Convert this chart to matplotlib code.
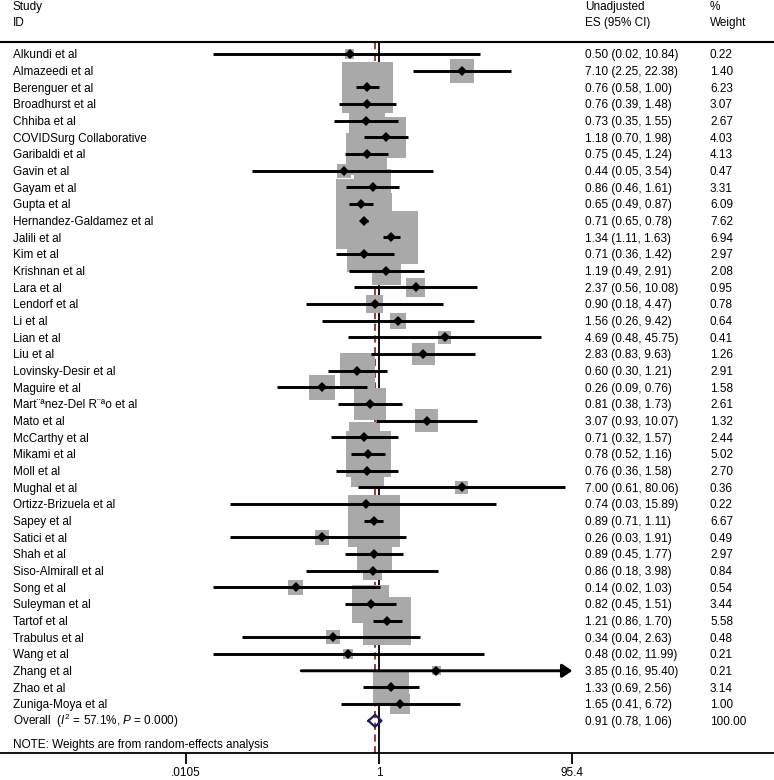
import numpy as np
import matplotlib
matplotlib.use("Agg")
from matplotlib import pyplot as plt

plt.rcParams['font.family'] = ['Liberation Sans', 'DejaVu Sans']
plt.rcParams['mathtext.fontset'] = 'custom'
plt.rcParams['mathtext.rm'] = 'Liberation Sans'
plt.rcParams['mathtext.it'] = 'Liberation Sans:italic'

studies = [
    "Alkundi et al", "Almazeedi et al", "Berenguer et al", "Broadhurst et al",
    "Chhiba et al", "COVIDSurg Collaborative", "Garibaldi et al", "Gavin et al",
    "Gayam et al", "Gupta et al", "Hernandez-Galdamez et al", "Jalili et al",
    "Kim et al", "Krishnan et al", "Lara et al", "Lendorf et al", "Li et al",
    "Lian et al", "Liu et al", "Lovinsky-Desir et al", "Maguire et al",
    "Mart\u00a8\u00aanez-Del R\u00a8\u00aao et al", "Mato et al", "McCarthy et al",
    "Mikami et al", "Moll et al", "Mughal et al", "Ortizz-Brizuela et al",
    "Sapey et al", "Satici et al", "Shah et al", "Siso-Almirall et al",
    "Song et al", "Suleyman et al", "Tartof et al", "Trabulus et al",
    "Wang et al", "Zhang et al", "Zhao et al", "Zuniga-Moya et al",
]
es = [0.50, 7.10, 0.76, 0.76, 0.73, 1.18, 0.75, 0.44, 0.86, 0.65,
      0.71, 1.34, 0.71, 1.19, 2.37, 0.90, 1.56, 4.69, 2.83, 0.60,
      0.26, 0.81, 3.07, 0.71, 0.78, 0.76, 7.00, 0.74, 0.89, 0.26,
      0.89, 0.86, 0.14, 0.82, 1.21, 0.34, 0.48, 3.85, 1.33, 1.65]
ci_low = [0.02, 2.25, 0.58, 0.39, 0.35, 0.70, 0.45, 0.05, 0.46, 0.49,
          0.65, 1.11, 0.36, 0.49, 0.56, 0.18, 0.26, 0.48, 0.83, 0.30,
          0.09, 0.38, 0.93, 0.32, 0.52, 0.36, 0.61, 0.03, 0.71, 0.03,
          0.45, 0.18, 0.02, 0.45, 0.86, 0.04, 0.02, 0.16, 0.69, 0.41]
ci_high = [10.84, 22.38, 1.00, 1.48, 1.55, 1.98, 1.24, 3.54, 1.61, 0.87,
           0.78, 1.63, 1.42, 2.91, 10.08, 4.47, 9.42, 45.75, 9.63, 1.21,
           0.76, 1.73, 10.07, 1.57, 1.16, 1.58, 80.06, 15.89, 1.11, 1.91,
           1.77, 3.98, 1.03, 1.51, 1.70, 2.63, 11.99, 95.40, 2.56, 6.72]
weights = [0.22, 1.40, 6.23, 3.07, 2.67, 4.03, 4.13, 0.47, 3.31, 6.09,
           7.62, 6.94, 2.97, 2.08, 0.95, 0.78, 0.64, 0.41, 1.26, 2.91,
           1.58, 2.61, 1.32, 2.44, 5.02, 2.70, 0.36, 0.22, 6.67, 0.49,
           2.97, 0.84, 0.54, 3.44, 5.58, 0.48, 0.21, 0.21, 3.14, 1.00]
overall_es, overall_lo, overall_hi = 0.91, 0.78, 1.06
i2, p_value = 57.1, 0.000
tick_values = [0.0105, 1, 95.4]
tick_labels = [".0105", "1", "95.4"]

FS = 8.5
W, H = 774, 780
row_px = 16.67
first_row_px = 54
axis_px = 752.7
one_px, decade_px = 379, 97.7

fig = plt.figure(figsize=(W / 100, H / 100), dpi=100)
ax = fig.add_axes([0, (H - axis_px) / H, 1, axis_px / H])
ax.set_xscale('log')
ax.set_xlim(10 ** (-one_px / decade_px), 10 ** ((W - one_px) / decade_px))
ax.set_ylim((axis_px - first_row_px) / row_px, -first_row_px / row_px)

n = len(studies)
rows = np.arange(n)
overall_row = n
top_line = (41.7 - first_row_px) / row_px
bottom_row = (axis_px - first_row_px) / row_px
base_off = 0.25

# reference lines (null line and pooled estimate)
ax.plot([1, 1], [top_line, bottom_row], color='black', lw=1.3, zorder=1)
ax.plot([overall_es, overall_es], [top_line, bottom_row],
        color='#8b2e2e', lw=1.3, ls=(0, (4, 2.5)), zorder=1)
ax.axhline(top_line, color='black', lw=1.5, zorder=1)

# weight boxes, area ~ weight
ax.scatter(es, rows, s=np.array(weights) * 213, marker='s', color='#a9a9a9',
           linewidths=0, zorder=2)

# CIs
xmax = tick_values[-1]
for r, lo, hi in zip(rows, ci_low, ci_high):
    if hi >= xmax:
        ax.annotate('', xy=(xmax, r), xytext=(lo, r),
                    arrowprops=dict(arrowstyle='-|>,head_length=0.6,head_width=0.4',
                                    lw=2.1, color='black', shrinkA=0, shrinkB=0,
                                    mutation_scale=10), zorder=3)
    else:
        ax.plot([lo, hi], [r, r], color='black', lw=2.1, solid_capstyle='butt', zorder=3)
ax.plot(es, rows, ls='none', marker='D', ms=5.2, color='black', mew=0, zorder=4)

# overall diamond
dh = 0.36
ax.plot([overall_lo, overall_es, overall_hi, overall_es, overall_lo],
        [overall_row, overall_row - dh, overall_row, overall_row + dh, overall_row],
        color='#1c1c5c', lw=1.6, zorder=5)

# text columns
tr = ax.get_yaxis_transform()
x_id, x_es, x_w = 12.7 / W, 585 / W, 710 / W
hdr1 = (5.5 - first_row_px) / row_px
hdr2 = (21.5 - first_row_px) / row_px
for x, t1, t2 in [(x_id, "Study", "ID"), (x_es, "Unadjusted", "ES (95% CI)"), (x_w, "%", "Weight")]:
    ax.text(x, hdr1 + base_off, t1, transform=tr, fontsize=FS, va='baseline')
    ax.text(x, hdr2 + base_off, t2, transform=tr, fontsize=FS, va='baseline')

for r, name, e, lo, hi, w in zip(rows, studies, es, ci_low, ci_high, weights):
    ax.text(x_id, r + base_off, name, transform=tr, fontsize=FS, va='baseline')
    ax.text(x_es, r + base_off, f"{e:.2f} ({lo:.2f}, {hi:.2f})", transform=tr, fontsize=FS, va='baseline')
    ax.text(x_w, r + base_off, f"{w:.2f}", transform=tr, fontsize=FS, va='baseline')

ax.text(x_id, overall_row + base_off,
        rf"Overall  ($\mathit{{I}}^2$ = {i2:.1f}%, $\mathit{{P}}$ = {p_value:.3f})",
        transform=tr, fontsize=FS, va='baseline')
ax.text(x_es, overall_row + base_off, f"{overall_es:.2f} ({overall_lo:.2f}, {overall_hi:.2f})",
        transform=tr, fontsize=FS, va='baseline')
ax.text(x_w, overall_row + base_off, "100.00", transform=tr, fontsize=FS, va='baseline')
ax.text(x_id, (744.2 - first_row_px) / row_px + base_off,
        "NOTE: Weights are from random-effects analysis",
        transform=tr, fontsize=FS, va='baseline')

# x axis
for s in ['top', 'left', 'right']:
    ax.spines[s].set_visible(False)
ax.spines['bottom'].set_linewidth(1.3)
ax.set_yticks([])
ax.set_xticks(tick_values)
ax.set_xticklabels(tick_labels)
ax.minorticks_off()
ax.tick_params(axis='x', direction='out', length=8, width=1.3, pad=2.5, labelsize=FS)

fig.savefig("out.png", dpi=100)
